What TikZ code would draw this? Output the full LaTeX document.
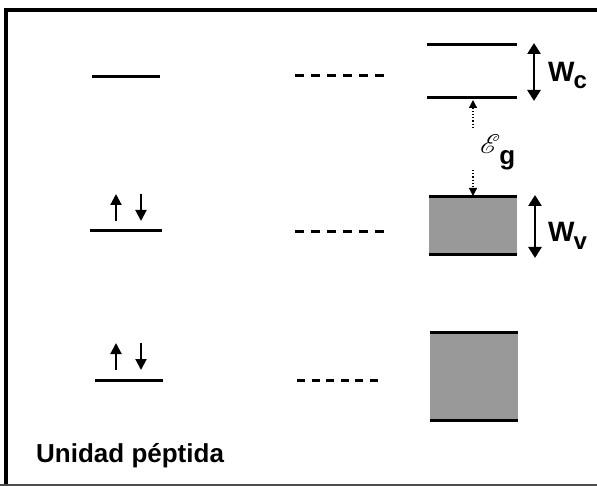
\documentclass[tikz,border=0pt]{standalone}
\usepackage{fontspec}
\setmainfont{Liberation Sans}
\usepackage{graphicx}
\usepackage{mathrsfs}
\usetikzlibrary{arrows.meta,positioning}
\tikzset{>=Triangle}

\tikzset{
  level/.style={line width=3pt},
  dashlevel/.style={line width=3pt, dash pattern=on 9pt off 7pt},
  spin/.style={line width=2pt, -{Triangle[length=11pt,width=11pt]}},
  bandwidth/.style={line width=2.6pt,
    {Triangle[length=11pt,width=13pt]}-{Triangle[length=11pt,width=13pt]}},
  gaparrow/.style={line width=1.2pt, dotted, -{Triangle[length=8pt,width=8pt]}},
  band/.style={fill=black!40, draw=none},
  lbl/.style={font=\bfseries\fontsize{28}{30}\selectfont, inner sep=0pt}
}

\begin{document}
\begin{tikzpicture}[x=1pt,y=-1pt]
  \useasboundingbox (0,0) rectangle (597,486);

  % frame
  \draw[line width=4pt] (6,486) -- (6,10) -- (597,10);
  \draw[line width=1.5pt,black!70] (0,485) -- (597,485);

  % single unit: levels with electron pairs
  \coordinate (a1) at (92,77);  \coordinate (a2) at (160,77);
  \coordinate (b1) at (90,231); \coordinate (b2) at (162,231);
  \coordinate (c1) at (95,380); \coordinate (c2) at (163,380);
  \draw[level] (a1) -- (a2);
  \draw[level] (b1) -- (b2);
  \draw[level] (c1) -- (c2);

  \coordinate (bu0) at (116,221); \coordinate (bu1) at (116,194);
  \coordinate (bd0) at (141,194); \coordinate (bd1) at (141,221);
  \draw[spin] (bu0) -- (bu1);
  \draw[spin] (bd0) -- (bd1);

  \coordinate (cu0) at (116,370); \coordinate (cu1) at (116,343);
  \coordinate (cd0) at (141,343); \coordinate (cd1) at (141,370);
  \draw[spin] (cu0) -- (cu1);
  \draw[spin] (cd0) -- (cd1);

  % interacting units
  \coordinate (da1) at (295,76);  \coordinate (da2) at (384,76);
  \coordinate (db1) at (295,232); \coordinate (db2) at (384,232);
  \coordinate (dc1) at (297,380); \coordinate (dc2) at (378,380);
  \draw[dashlevel] (da1) -- (da2);
  \draw[dashlevel] (db1) -- (db2);
  \draw[dashlevel, dash pattern=on 8pt off 6.6pt] (dc1) -- (dc2);

  % conduction band
  \coordinate (ct1) at (427,45); \coordinate (ct2) at (517,45);
  \coordinate (cb1) at (427,98); \coordinate (cb2) at (517,98);
  \draw[level] (ct1) -- (ct2);
  \draw[level] (cb1) -- (cb2);

  % valence band
  \path[band] (429,197) rectangle (517,255);
  \coordinate (vt1) at (429,197); \coordinate (vt2) at (517,197);
  \coordinate (vb1) at (429,255); \coordinate (vb2) at (517,255);
  \draw[level] (vt1) -- (vt2);
  \draw[level] (vb1) -- (vb2);

  % lower band
  \path[band] (430,332) rectangle (518,420);
  \coordinate (lt1) at (430,332); \coordinate (lt2) at (518,332);
  \coordinate (lb1) at (430,420); \coordinate (lb2) at (518,420);
  \draw[level] (lt1) -- (lt2);
  \draw[level] (lb1) -- (lb2);

  % band widths
  \coordinate (wc0) at (534,43);  \coordinate (wc1) at (534,101);
  \coordinate (wv0) at (535,195); \coordinate (wv1) at (535,258);
  \draw[bandwidth] (wc0) -- (wc1);
  \draw[bandwidth] (wv0) -- (wv1);
  \node[lbl, anchor=base west] (wc) at (548,82)
    {W\kern-1pt\raisebox{-7pt}{\fontsize{24}{25}\selectfont c}};
  \node[lbl, anchor=base west] (wv) at (548,242)
    {W\kern-1pt\raisebox{-8pt}{\fontsize{24}{25}\selectfont v}};

  % gap
  \node[inner sep=0pt, anchor=base west] (eg) at (480,154)
    {\scalebox{2.7}{$\mathscr{E}$}\kern-1pt\raisebox{-11pt}{\bfseries\fontsize{26}{27}\selectfont g}};
  \coordinate (g0) at (473,128); \coordinate (g1) at (473,100);
  \coordinate (g2) at (473,170); \coordinate (g3) at (473,196);
  \draw[gaparrow] (g0) -- (g1);
  \draw[gaparrow] (g2) -- (g3);

  \node[font=\bfseries\fontsize{26}{28}\selectfont, inner sep=0pt,
    anchor=base west] (title) at (36,462) {Unidad péptida};
\end{tikzpicture}
\end{document}
